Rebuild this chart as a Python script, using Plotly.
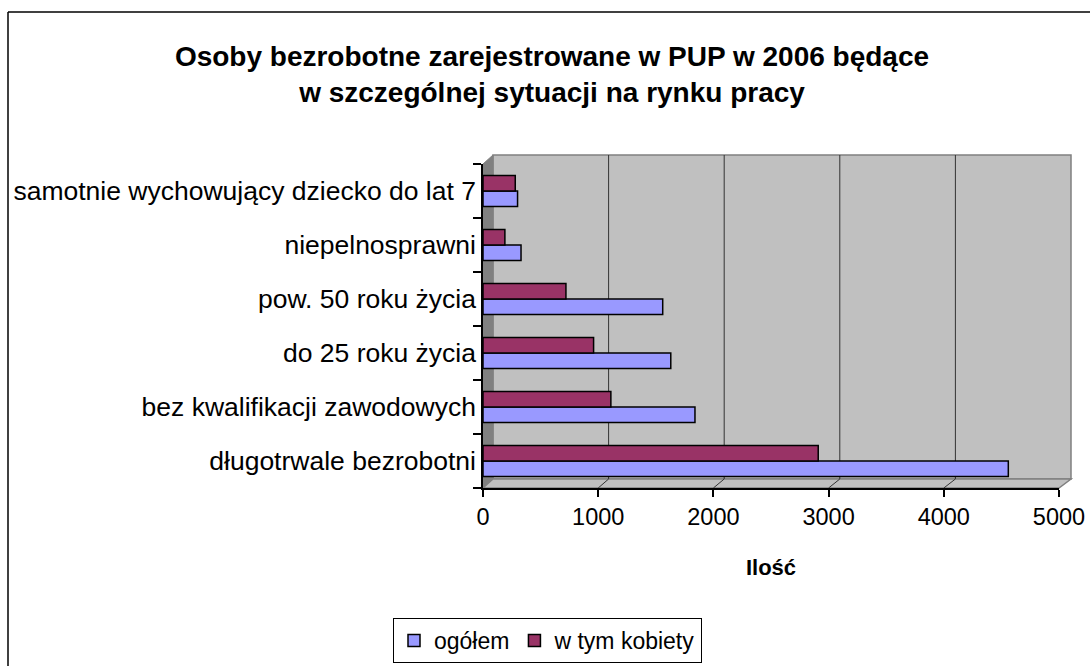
import plotly.graph_objects as go

categories = ["długotrwale bezrobotni", "bez kwalifikacji zawodowych", "do 25 roku życia",
              "pow. 50 roku życia", "niepelnosprawni", "samotnie wychowujący dziecko do lat 7"]
ogolem = [4560, 1840, 1630, 1560, 330, 300]
kobiety = [2910, 1110, 960, 720, 190, 280]
x_ticks = [0, 1000, 2000, 3000, 4000, 5000]
x_max = 5000

W, H = 1090, 666
# front plane of the 3D-looking plot area (pixels)
L, R, T, B = 483, 1059, 164, 488
# back wall (pixels)
BL, BR, BT, BB = 493, 1071, 155, 479

FONT = "Liberation Sans, Arial, sans-serif"


def px(x):
    return (x - L) / (R - L)


def py(y):
    return (B - y) / (B - T)


def back_x(v):
    return BL + v * (BR - BL) / x_max


def front_x(v):
    return L + v * (R - L) / x_max


def path(points):
    return "M " + " L ".join(f"{px(a):.5f},{py(b):.5f}" for a, b in points) + " Z"


fig = go.Figure()
fig.add_trace(go.Bar(y=categories, x=ogolem, orientation="h", name="ogółem",
                     marker=dict(color="#9999FF", line=dict(color="black", width=1.5))))
fig.add_trace(go.Bar(y=categories, x=kobiety, orientation="h", name="w tym kobiety",
                     marker=dict(color="#993366", line=dict(color="black", width=1.5))))

shapes = []
# back wall
shapes.append(dict(type="rect", xref="paper", yref="paper", x0=px(BL), x1=px(BR), y0=py(BB), y1=py(BT),
                   fillcolor="#C0C0C0", line=dict(color="#808080", width=1.5), layer="below"))
# left side wall
shapes.append(dict(type="path", xref="paper", yref="paper",
                   path=path([(L, T), (BL, BT), (BL, BB), (L, B)]),
                   fillcolor="#808080", line=dict(color="#808080", width=1), layer="below"))
# floor
shapes.append(dict(type="path", xref="paper", yref="paper",
                   path=path([(L, B), (BL, BB), (BR, BB), (R, B)]),
                   fillcolor="#C0C0C0", line=dict(color="#808080", width=1.5), layer="below"))
# gridlines on back wall and floor
for v in x_ticks[1:-1]:
    shapes.append(dict(type="line", xref="paper", yref="paper",
                       x0=px(back_x(v)), x1=px(back_x(v)), y0=py(BB), y1=py(BT),
                       line=dict(color="#333333", width=1), layer="below"))
    shapes.append(dict(type="line", xref="paper", yref="paper",
                       x0=px(front_x(v)), x1=px(back_x(v)), y0=py(B), y1=py(BB),
                       line=dict(color="#333333", width=1), layer="below"))
# outer chart border (left and top visible)
shapes.append(dict(type="line", xref="paper", yref="paper", x0=px(8), x1=px(8), y0=py(H + 5), y1=py(12),
                   line=dict(color="black", width=1.5)))
shapes.append(dict(type="line", xref="paper", yref="paper", x0=px(8), x1=px(W + 5), y0=py(12), y1=py(12),
                   line=dict(color="black", width=1.5)))

fig.update_layout(
    width=W, height=H,
    margin=dict(l=L, r=W - R, t=T, b=H - B, autoexpand=False),
    paper_bgcolor="white", plot_bgcolor="rgba(0,0,0,0)",
    font=dict(family=FONT, size=24, color="black"),
    title=dict(text="<b>Osoby bezrobotne zarejestrowane w PUP w 2006 będące<br>w szczególnej sytuacji na rynku pracy</b>",
               x=552 / W, xanchor="center", y=1 - 66 / H, yanchor="top",
               font=dict(size=28, family=FONT)),
    barmode="group", bargap=0.43, bargroupgap=0.0,
    xaxis=dict(range=[0, x_max], tickvals=x_ticks, showgrid=False,
               zeroline=False, showline=True, linecolor="black", linewidth=1.5,
               ticks="outside", ticklen=7, tickcolor="black", tickwidth=1.5,
               tickfont=dict(size=23.5), fixedrange=True,
               title=dict(text="<b>Ilość</b>", font=dict(size=22), standoff=31)),
    yaxis=dict(showgrid=False, showline=True, linecolor="black", linewidth=1.5,
               ticks="outside", ticklen=8, tickcolor="black", tickwidth=1.5, tickson="boundaries",
               tickfont=dict(size=26.5), fixedrange=True,
               categoryorder="array", categoryarray=categories),
    legend=dict(orientation="h", xref="container", yref="container",
                x=393 / W, xanchor="left", y=1 - 618 / H, yanchor="top",
                bordercolor="black", borderwidth=1, bgcolor="white",
                font=dict(size=23), traceorder="normal", itemwidth=30),
    shapes=shapes,
    showlegend=True,
)
fig.write_html("out.html", config={"displayModeBar": False},
               post_script="document.body.style.margin='0';document.body.style.overflow='hidden';")
